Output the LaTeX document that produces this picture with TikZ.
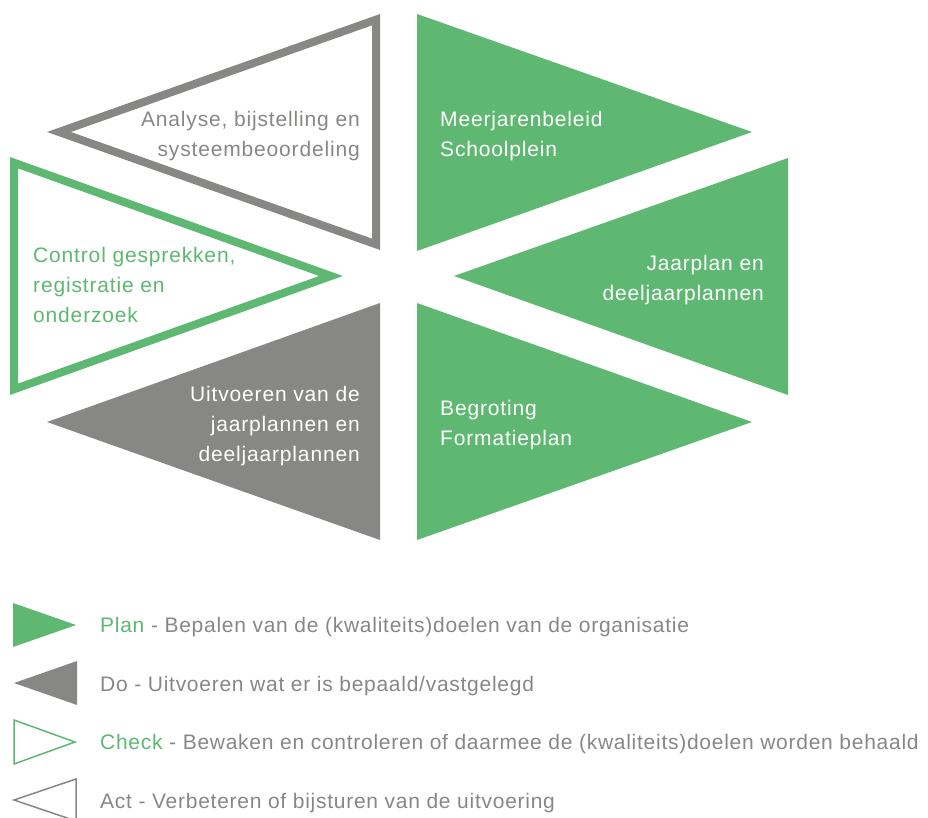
\documentclass[tikz,border=0pt]{standalone}
\usepackage{fontspec}
\setmainfont[LetterSpace=3.5]{Liberation Sans}
\newfontfamily\widesans[LetterSpace=4]{Liberation Sans}
\definecolor{pdcagreen}{RGB}{94,184,114}
\definecolor{pdcagray}{RGB}{135,135,133}
\begin{document}
\begin{tikzpicture}[x=1pt, y=-1pt, line join=miter,
    every node/.style={font=\widesans\fontsize{21}{30}\selectfont, inner sep=0pt},
    lbl/.style={align=left, anchor=base west},
    rlbl/.style={align=right, anchor=base east},
    key/.style={anchor=base west, font=\rmfamily\fontsize{21}{30}\selectfont, pdcagray}]
\useasboundingbox (0,0) rectangle (928,818);
\draw[pdcagray, line width=8pt] (59,132)--(376,19.7)--(376,244.3)--cycle;
\fill[pdcagreen] (417,14)--(752,132)--(417,251)--cycle;
\draw[pdcagreen, line width=8pt] (14,162.7)--(331,276)--(14,389.3)--cycle;
\fill[pdcagreen] (788,158)--(454,276)--(788,395)--cycle;
\fill[pdcagray] (380,303)--(47,422)--(380,540)--cycle;
\fill[pdcagreen] (417,303)--(752,422)--(417,540)--cycle;
\node[rlbl, pdcagray] (analyse) at (360,157) {Analyse, bijstelling en\\systeembeoordeling};
\node[lbl, white] (meerjaren) at (440,157) {Meerjarenbeleid\\Schoolplein};
\node[lbl, pdcagreen] (control) at (33,322) {Control gesprekken,\\registratie en\\onderzoek};
\node[rlbl, white] (jaarplan) at (764,300) {Jaarplan en\\deeljaarplannen};
\node[rlbl, white] (uitvoeren) at (360,461) {Uitvoeren van de\\jaarplannen en\\deeljaarplannen};
\node[lbl, white] (begroting) at (440,445) {Begroting\\Formatieplan};

\fill[pdcagreen] (13,603)--(76,625)--(13,647)--cycle;
\node[key] (plan) at (100,632) {\textcolor{pdcagreen}{Plan} - Bepalen van de (kwaliteits)doelen van de organisatie};
\fill[pdcagray] (77,661)--(14,683)--(77,705)--cycle;
\node[key] (do) at (100,691) {Do - Uitvoeren wat er is bepaald/vastgelegd};
\draw[pdcagreen, line width=1.5pt] (14,720)--(75,742)--(14,764)--cycle;
\node[key] (check) at (100,749) {\textcolor{pdcagreen}{Check} - Bewaken en controleren of daarmee de (kwaliteits)doelen worden behaald};
\draw[pdcagray, line width=1.5pt] (76,779)--(14,800)--(76,821)--cycle;
\node[key] (act) at (100,808) {Act - Verbeteren of bijsturen van de uitvoering};
\end{tikzpicture}
\end{document}
